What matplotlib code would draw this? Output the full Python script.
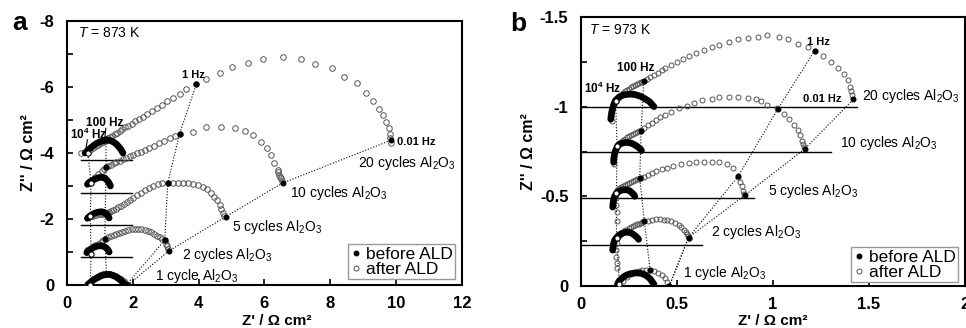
import matplotlib
matplotlib.use('Agg')
import matplotlib.pyplot as plt
from matplotlib.lines import Line2D

plt.rcParams['font.family'] = ['Liberation Sans', 'DejaVu Sans']
plt.rcParams['mathtext.fontset'] = 'custom'
plt.rcParams['mathtext.rm'] = 'Liberation Sans'
plt.rcParams['mathtext.it'] = 'Liberation Sans:italic'
plt.rcParams['mathtext.bf'] = 'Liberation Sans:bold'
plt.rcParams['axes.unicode_minus'] = False

# ================= panel a : T = 873 K =================
a_xticks = [0, 2, 4, 6, 8, 10, 12]
a_xticklabels = ['0', '2', '4', '6', '8', '10', '12']
a_yticks = [-8, -6, -4, -2, 0]
a_yticklabels = ['-8', '-6', '-4', '-2', '0']
a_baselines = [-0.84, -1.82, -2.80, -3.79]

# after ALD (open circles)
a1_after_x = [0.62, 0.7, 0.8, 0.9, 1.0, 1.1, 1.2, 1.3, 1.4, 1.5, 1.58, 1.65, 1.72, 1.77, 1.8]
a1_after_y = [-0.02, -0.1, -0.18, -0.24, -0.29, -0.32, -0.33, -0.33, -0.31, -0.27, -0.22, -0.17, -0.11, -0.06, -0.02]
a2_after_x = [0.62, 0.7, 0.78, 0.86, 0.94, 1.02, 1.1, 1.18, 1.26, 1.34, 1.42, 1.5, 1.58, 1.67, 1.76, 1.86,
              1.96, 2.06, 2.16, 2.26, 2.36, 2.46, 2.56, 2.65, 2.74, 2.82, 2.89, 2.97, 3.02, 3.05, 3.07]
a2_after_y = [-1.05, -1.1, -1.15, -1.2, -1.25, -1.3, -1.35, -1.4, -1.44, -1.49, -1.53, -1.56, -1.59, -1.62, -1.65, -1.67,
              -1.69, -1.7, -1.7, -1.69, -1.67, -1.64, -1.6, -1.55, -1.5, -1.44, -1.39, -1.36, -1.25, -1.17, -1.1]
a5_after_x = [0.64, 0.72, 0.8, 0.88, 0.96, 1.04, 1.1, 1.16, 1.22, 1.28, 1.34, 1.41, 1.48, 1.56, 1.64, 1.73, 1.82,
              1.92, 2.02, 2.13, 2.24, 2.36, 2.49, 2.62, 2.76, 2.9, 3.06, 3.22, 3.37, 3.52, 3.68, 3.83, 3.98, 4.13,
              4.25, 4.38, 4.48, 4.56, 4.64, 4.69, 4.74, 4.78]
a5_after_y = [-2.06, -2.08, -2.1, -2.12, -2.14, -2.15, -2.16, -2.17, -2.19, -2.21, -2.23, -2.26, -2.3, -2.35, -2.4,
              -2.46, -2.52, -2.58, -2.65, -2.72, -2.8, -2.87, -2.94, -3.0, -3.05, -3.08, -3.09, -3.09, -3.09, -3.08,
              -3.08, -3.06, -3.03, -2.98, -2.9, -2.8, -2.68, -2.58, -2.42, -2.29, -2.17, -2.1]
a10_after_x = [0.66, 0.75, 0.85, 0.95, 1.05, 1.12, 1.19, 1.26, 1.34, 1.42, 1.5, 1.6, 1.7, 1.8, 1.9, 2.01, 2.12,
               2.24, 2.37, 2.5, 2.64, 2.8, 2.96, 3.12, 3.27, 3.42, 3.83, 4.23, 4.69, 5.09, 5.4, 5.65, 5.9, 6.07,
               6.2, 6.3, 6.4, 6.42, 6.45, 6.47, 6.5, 6.52]
a10_after_y = [-3.1, -3.18, -3.27, -3.36, -3.45, -3.51, -3.57, -3.61, -3.65, -3.69, -3.72, -3.76, -3.81, -3.85,
               -3.9, -3.94, -3.99, -4.04, -4.1, -4.16, -4.22, -4.3, -4.37, -4.44, -4.51, -4.58, -4.64, -4.8, -4.8,
               -4.75, -4.66, -4.55, -4.34, -4.14, -3.94, -3.69, -3.5, -3.43, -3.33, -3.28, -3.23, -3.16]
a20_after_x = [0.42, 0.6, 0.7, 0.8, 0.88, 0.95, 1.02, 1.08, 1.14, 1.2, 1.26, 1.32, 1.38, 1.45, 1.52, 1.6, 1.68,
               1.77, 1.86, 1.96, 2.07, 2.18, 2.3, 2.43, 2.57, 2.72, 2.88, 3.05, 3.23, 3.42, 3.63, 3.93, 4.23, 4.64,
               5.0, 5.49, 5.95, 6.55, 7.12, 7.52, 8.06, 8.42, 8.82, 9.09, 9.3, 9.48, 9.6, 9.7, 9.79, 9.82, 9.82, 9.83]
a20_after_y = [-4.0, -4.05, -4.1, -4.16, -4.21, -4.25, -4.3, -4.33, -4.37, -4.41, -4.45, -4.49, -4.53, -4.57,
               -4.62, -4.67, -4.72, -4.78, -4.83, -4.89, -4.96, -5.03, -5.1, -5.18, -5.27, -5.36, -5.46, -5.57,
               -5.68, -5.8, -5.93, -6.09, -6.23, -6.43, -6.6, -6.72, -6.84, -6.9, -6.85, -6.7, -6.57, -6.3, -6.12,
               -5.83, -5.58, -5.33, -5.15, -4.95, -4.76, -4.58, -4.45, -4.3]

# before ALD (filled)
a1_before_x = [0.64, 0.7, 0.8, 0.9, 1.0, 1.1, 1.2, 1.3, 1.4, 1.5, 1.6, 1.7, 1.76]
a1_before_y = [0.0, -0.07, -0.15, -0.21, -0.26, -0.3, -0.32, -0.32, -0.29, -0.24, -0.17, -0.08, -0.01]
a2_before_x = [0.6, 0.66, 0.74, 0.83, 0.93, 1.03, 1.12, 1.2, 1.25, 1.28]
a2_before_y = [-0.98, -1.04, -1.1, -1.15, -1.18, -1.19, -1.17, -1.12, -1.06, -1.0]
a5_before_x = [0.62, 0.68, 0.76, 0.85, 0.95, 1.05, 1.13, 1.2, 1.25, 1.28]
a5_before_y = [-2.02, -2.08, -2.13, -2.18, -2.21, -2.22, -2.2, -2.15, -2.09, -2.03]
a10_before_x = [0.62, 0.66, 0.75, 0.85, 0.95, 1.05, 1.15, 1.22, 1.28, 1.32]
a10_before_y = [-3.05, -3.1, -3.16, -3.21, -3.25, -3.27, -3.24, -3.17, -3.09, -3.0]
a20_before_x = [0.55, 0.6, 0.7, 0.8, 0.9, 1.0, 1.1, 1.2, 1.3, 1.4, 1.5, 1.58, 1.65, 1.7]
a20_before_y = [-4.0, -4.05, -4.14, -4.22, -4.29, -4.34, -4.37, -4.39, -4.38, -4.34, -4.27, -4.18, -4.09, -4.0]

# marked frequencies (1, 2, 5, 10, 20 cycles)
a_f10k_x = [0.71, 0.73, 0.71, 0.73, 0.63]
a_f10k_y = [0.0, -0.94, -2.1, -3.1, -4.01]
a_f100_x = [1.2, 1.15, 1.16, 1.19, 1.18]
a_f100_y = [-0.32, -1.38, -2.17, -3.57, -4.42]
a_f1_x = [1.8, 2.97, 3.06, 3.42, 3.93]
a_f1_y = [0.0, -1.36, -3.09, -4.58, -6.09]
a_f001_x = [1.85, 3.09, 4.82, 6.55, 9.85]
a_f001_y = [0.0, -1.03, -2.07, -3.09, -4.39]

# ================= panel b : T = 973 K =================
b_xticks = [0, 0.5, 1, 1.5, 2]
b_xticklabels = ['0', '0.5', '1', '1.5', '2']
b_yticks = [-1.5, -1, -0.5, 0]
b_yticklabels = ['-1.5', '-1', '-0.5', '0']
b_baselines = [-0.23, -0.49, -0.75, -1.0]
b_baseline_ends = [0.63, 0.9, 1.3, 1.44]

b1_after_x = [0.2, 0.22, 0.24, 0.26, 0.28, 0.3, 0.32, 0.34, 0.36, 0.38, 0.4, 0.42, 0.435, 0.45]
b1_after_y = [0.0, -0.03, -0.05, -0.065, -0.077, -0.085, -0.09, -0.092, -0.09, -0.085, -0.075, -0.06, -0.045, -0.025]
b2_after_x = [0.19, 0.185, 0.18, 0.18, 0.185, 0.19, 0.2, 0.21, 0.22, 0.23, 0.24, 0.25, 0.26, 0.27, 0.28, 0.29,
              0.3, 0.31, 0.32, 0.33, 0.35, 0.37, 0.39, 0.41, 0.43, 0.45, 0.47, 0.49, 0.51, 0.52, 0.535, 0.545,
              0.55, 0.555]
b2_after_y = [-0.1, -0.13, -0.16, -0.2, -0.24, -0.265, -0.28, -0.29, -0.3, -0.31, -0.315, -0.322, -0.328, -0.333,
              -0.338, -0.343, -0.348, -0.352, -0.356, -0.36, -0.365, -0.37, -0.372, -0.372, -0.37, -0.367, -0.36,
              -0.35, -0.34, -0.33, -0.315, -0.3, -0.29, -0.28]
b5_after_x = [0.19, 0.185, 0.18, 0.18, 0.185, 0.19, 0.2, 0.21, 0.22, 0.23, 0.24, 0.25, 0.26, 0.27, 0.28, 0.29,
              0.3, 0.31, 0.33, 0.35, 0.37, 0.39, 0.42, 0.45, 0.48, 0.52, 0.56, 0.6, 0.64, 0.68, 0.72, 0.76, 0.79,
              0.82, 0.83, 0.84, 0.845, 0.85]
b5_after_y = [-0.36, -0.41, -0.45, -0.49, -0.52, -0.535, -0.545, -0.552, -0.558, -0.565, -0.57, -0.575, -0.58,
              -0.585, -0.59, -0.595, -0.598, -0.602, -0.61, -0.62, -0.63, -0.64, -0.65, -0.66, -0.67, -0.68,
              -0.685, -0.69, -0.69, -0.69, -0.69, -0.68, -0.66, -0.61, -0.58, -0.555, -0.53, -0.515]
b10_after_x = [0.17, 0.165, 0.17, 0.18, 0.19, 0.2, 0.21, 0.22, 0.23, 0.24, 0.25, 0.26, 0.27, 0.28, 0.29, 0.3,
               0.31, 0.33, 0.35, 0.37, 0.39, 0.41, 0.44, 0.47, 0.51, 0.55, 0.59, 0.63, 0.68, 0.72, 0.77, 0.82,
               0.87, 0.91, 0.94, 0.97, 1.02, 1.055, 1.085, 1.11, 1.13, 1.14, 1.15, 1.155, 1.16]
b10_after_y = [-0.68, -0.71, -0.74, -0.77, -0.785, -0.795, -0.805, -0.815, -0.822, -0.83, -0.837, -0.843, -0.85,
               -0.855, -0.86, -0.865, -0.87, -0.88, -0.895, -0.91, -0.925, -0.94, -0.955, -0.97, -0.99, -1.005,
               -1.02, -1.035, -1.045, -1.055, -1.055, -1.055, -1.05, -1.04, -1.03, -1.01, -0.99, -0.96, -0.93,
               -0.9, -0.87, -0.84, -0.81, -0.79, -0.775]
b20_after_x = [0.16, 0.155, 0.16, 0.17, 0.18, 0.19, 0.2, 0.21, 0.22, 0.23, 0.24, 0.25, 0.26, 0.27, 0.28, 0.29,
               0.3, 0.31, 0.32, 0.33, 0.345, 0.36, 0.38, 0.4, 0.42, 0.44, 0.47, 0.5, 0.53, 0.56, 0.6, 0.64, 0.68,
               0.72, 0.77, 0.82, 0.87, 0.92, 0.97, 1.03, 1.08, 1.13, 1.18, 1.22, 1.26, 1.3, 1.34, 1.37, 1.39, 1.4,
               1.405, 1.41]
b20_after_y = [-0.92, -0.95, -0.98, -1.01, -1.03, -1.045, -1.055, -1.065, -1.075, -1.085, -1.092, -1.1, -1.107,
               -1.114, -1.12, -1.127, -1.133, -1.138, -1.14, -1.145, -1.155, -1.165, -1.178, -1.19, -1.205,
               -1.218, -1.235, -1.25, -1.265, -1.28, -1.3, -1.315, -1.33, -1.345, -1.36, -1.375, -1.385, -1.39,
               -1.4, -1.39, -1.375, -1.35, -1.33, -1.31, -1.285, -1.25, -1.216, -1.18, -1.15, -1.11, -1.085, -1.065]

b1_before_x = [0.19, 0.2, 0.215, 0.23, 0.25, 0.27, 0.29, 0.31, 0.33, 0.345, 0.36, 0.37, 0.38]
b1_before_y = [-0.01, -0.03, -0.045, -0.057, -0.066, -0.071, -0.073, -0.071, -0.064, -0.054, -0.04, -0.025, -0.01]
b2_before_x = [0.165, 0.168, 0.175, 0.185, 0.197, 0.21, 0.225, 0.24, 0.255, 0.27, 0.285, 0.295, 0.3]
b2_before_y = [-0.2, -0.23, -0.255, -0.27, -0.283, -0.292, -0.298, -0.3, -0.298, -0.29, -0.278, -0.268, -0.26]
b5_before_x = [0.165, 0.168, 0.175, 0.185, 0.197, 0.21, 0.225, 0.24, 0.255, 0.265, 0.275, 0.28]
b5_before_y = [-0.44, -0.47, -0.5, -0.518, -0.528, -0.534, -0.537, -0.536, -0.53, -0.52, -0.51, -0.5]
b10_before_x = [0.17, 0.172, 0.178, 0.188, 0.2, 0.215, 0.23, 0.245, 0.26, 0.275, 0.29, 0.3, 0.31, 0.315]
b10_before_y = [-0.69, -0.72, -0.75, -0.775, -0.79, -0.797, -0.8, -0.8, -0.797, -0.79, -0.78, -0.772, -0.763, -0.755]
b20_before_x = [0.155, 0.16, 0.17, 0.18, 0.2, 0.22, 0.25, 0.28, 0.31, 0.34, 0.36, 0.37, 0.38]
b20_before_y = [-0.93, -0.97, -1.01, -1.035, -1.055, -1.065, -1.07, -1.068, -1.058, -1.04, -1.025, -1.012, -1.0]

b_f10k_x = [0.2, 0.185, 0.184, 0.188, 0.18]
b_f10k_y = [-0.01, -0.265, -0.518, -0.778, -1.03]
b_f100_x = [0.36, 0.33, 0.306, 0.313, 0.327]
b_f100_y = [-0.09, -0.36, -0.602, -0.862, -1.141]
b_f1_x = [0.46, 0.56, 0.82, 1.025, 1.217]
b_f1_y = [0.0, -0.27, -0.614, -0.987, -1.313]
b_f001_x = [0.46, 0.56, 0.856, 1.165, 1.418]
b_f001_y = [0.0, -0.27, -0.508, -0.764, -1.04]

series_labels = ['1 cycle', '2 cycles', '5 cycles', '10 cycles', '20 cycles']
legend_labels = ['before ALD', 'after ALD']

OPEN_EC = '#555555'


def draw_panel(ax, afters, befores, f10k, f100, f1, f001, ms_open, lw_before):
    dot = (0, (1, 1.6))
    for fx, fy in (f10k, f100, f1, f001):
        ax.plot(fx, fy, linestyle=dot, color='k', lw=0.8, zorder=2)
    for x, y in afters:
        ax.plot(x, y, 'o', ms=ms_open, mfc='none', mec=OPEN_EC, mew=0.7, zorder=3)
    for x, y in befores:
        ax.plot(x, y, '-', color='k', lw=lw_before, solid_capstyle='round', zorder=4)
    for fx, fy in (f100, f1, f001):
        ax.plot(fx, fy, 'o', ms=3.3, color='k', zorder=5)
    ax.plot(f10k[0], f10k[1], 'o', ms=3.8, mfc='white', mec='k', mew=0.8, zorder=6)


def style_axes(ax, xticks, xlabels, yticks, ylabels):
    for s in ax.spines.values():
        s.set_linewidth(1.5)
    ax.set_xticks(xticks, xlabels, fontsize=12, fontweight='bold')
    ax.set_yticks(yticks, ylabels, fontsize=12, fontweight='bold')
    ax.tick_params(direction='in', length=4, width=1.2, pad=9)
    ax.tick_params(axis='x', pad=8)
    ax.tick_params(which='minor', direction='in', length=4, width=1.2)
    ax.set_xlabel("Z' / Ω cm²", fontsize=11, fontweight='bold')
    ax.set_ylabel("Z'' / Ω cm²", fontsize=11.5, fontweight='bold', labelpad=3)


def add_legend(ax, anchor):
    handles = [Line2D([], [], marker='o', ls='', color='k', ms=3.2),
               Line2D([], [], marker='o', ls='', mfc='none', mec=OPEN_EC, mew=0.7, ms=3.6)]
    leg = ax.legend(handles, legend_labels, loc='lower right', bbox_to_anchor=anchor, borderaxespad=0,
                    fontsize=12.5, handlelength=0.6, handletextpad=0.3, borderpad=0.12, labelspacing=0.0,
                    fancybox=False, framealpha=1, edgecolor='#9a9a9a')
    leg.get_frame().set_linewidth(1.0)


def al2o3(lbl):
    return lbl + ' Al$_2$O$_3$'


fig = plt.figure(figsize=(9.66, 3.28), dpi=100)

# ---------------- panel a ----------------
axA = fig.add_axes([67 / 966, 1 - 285 / 328, 395 / 966, 264 / 328])
for y0 in a_baselines:
    axA.plot([0.42, 1.97], [y0, y0], color='k', lw=1.0, zorder=1)
draw_panel(axA,
           [(a1_after_x, a1_after_y), (a2_after_x, a2_after_y), (a5_after_x, a5_after_y),
            (a10_after_x, a10_after_y), (a20_after_x, a20_after_y)],
           [(a1_before_x, a1_before_y), (a2_before_x, a2_before_y), (a5_before_x, a5_before_y),
            (a10_before_x, a10_before_y), (a20_before_x, a20_before_y)],
           (a_f10k_x, a_f10k_y), (a_f100_x, a_f100_y), (a_f1_x, a_f1_y), (a_f001_x, a_f001_y),
           ms_open=4.0, lw_before=4.8)
axA.set_xlim(0, 12)
axA.set_ylim(0, -8)
axA.set_yticks([-7, -5, -3, -1], minor=True)
style_axes(axA, a_xticks, a_xticklabels, a_yticks, a_yticklabels)
axA.xaxis.set_label_coords(0.53, -0.108)
add_legend(axA, (0.982, 0.023))

axA.text(0.33, -7.64, '$T$ = 873 K', fontsize=10, va='center', ha='left')
axA.text(3.5, -6.36, '1 Hz', fontsize=8, fontweight='bold', va='center', ha='left')
axA.text(0.58, -4.92, '100 Hz', fontsize=8.5, fontweight='bold', va='center', ha='left')
axA.text(0.08, -4.55, r'$\mathbf{10^4}$ Hz', fontsize=8.5, fontweight='bold', va='center', ha='left')
axA.text(10.03, -4.34, '0.01 Hz', fontsize=8, fontweight='bold', va='center', ha='left')
axA.plot([1.18, 1.15], [-4.75, -4.45], color='k', lw=0.8, zorder=6)
axA.plot([0.62, 0.56], [-4.4, -4.05], color='k', lw=0.8, zorder=6)
a_text_pos = [(2.67, -0.27), (3.48, -0.91), (5.0, -1.76), (6.76, -2.79), (8.85, -3.7)]
for lbl, (tx, ty) in zip(series_labels, a_text_pos):
    axA.text(tx, ty, al2o3(lbl), fontsize=10, va='center', ha='left')

# ---------------- panel b ----------------
axB = fig.add_axes([581 / 966, 1 - 286 / 328, 384 / 966, 269 / 328])
for y0, xe in zip(b_baselines, b_baseline_ends):
    axB.plot([0, xe], [y0, y0], color='k', lw=1.0, zorder=1)
draw_panel(axB,
           [(b1_after_x, b1_after_y), (b2_after_x, b2_after_y), (b5_after_x, b5_after_y),
            (b10_after_x, b10_after_y), (b20_after_x, b20_after_y)],
           [(b1_before_x, b1_before_y), (b2_before_x, b2_before_y), (b5_before_x, b5_before_y),
            (b10_before_x, b10_before_y), (b20_before_x, b20_before_y)],
           (b_f10k_x, b_f10k_y), (b_f100_x, b_f100_y), (b_f1_x, b_f1_y), (b_f001_x, b_f001_y),
           ms_open=3.6, lw_before=4.8)
axB.set_xlim(0, 2)
axB.set_ylim(0, -1.5)
axB.set_yticks([-1.25, -0.75, -0.25], minor=True)
style_axes(axB, b_xticks, b_xticklabels, b_yticks, b_yticklabels)
axB.xaxis.set_label_coords(0.5, -0.103)
add_legend(axB, (0.982, 0.015))

axB.text(0.04, -1.43, '$T$ = 973 K', fontsize=10, va='center', ha='left')
axB.text(0.186, -1.216, '100 Hz', fontsize=8.5, fontweight='bold', va='center', ha='left')
axB.text(0.018, -1.104, r'$\mathbf{10^4}$ Hz', fontsize=8.5, fontweight='bold', va='center', ha='left')
axB.text(1.175, -1.36, '1 Hz', fontsize=8, fontweight='bold', va='center', ha='left')
axB.text(1.154, -1.04, '0.01 Hz', fontsize=8, fontweight='bold', va='center', ha='left')
b_text_pos = [(0.531, -0.073), (0.676, -0.303), (0.976, -0.527), (1.348, -0.797), (1.463, -1.058)]
for lbl, (tx, ty) in zip(series_labels, b_text_pos):
    axB.text(tx, ty, al2o3(lbl), fontsize=10, va='center', ha='left')

fig.text(12 / 966, 1 - 30 / 328, 'a', fontsize=19, fontweight='bold', va='baseline', ha='left')
fig.text(510 / 966, 1 - 31 / 328, 'b', fontsize=19, fontweight='bold', va='baseline', ha='left')

fig.savefig('out.png', dpi=100)
